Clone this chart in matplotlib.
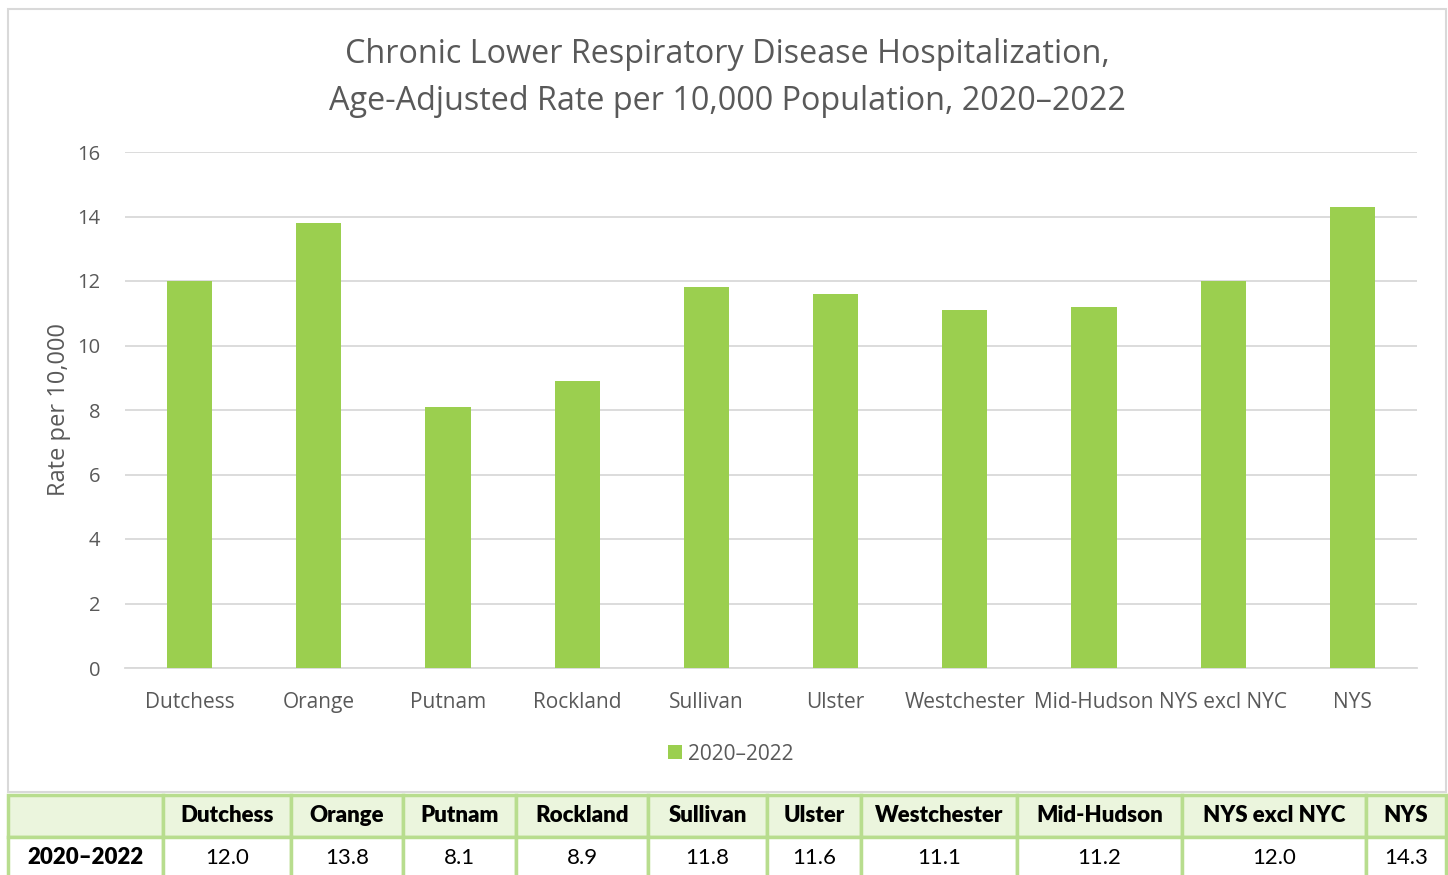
import matplotlib.pyplot as plt
from matplotlib.patches import Rectangle

W, H = 1448, 875

regions = ["Dutchess", "Orange", "Putnam", "Rockland", "Sullivan", "Ulster",
           "Westchester", "Mid-Hudson", "NYS excl NYC", "NYS"]
rates = [12.0, 13.8, 8.1, 8.9, 11.8, 11.6, 11.1, 11.2, 12.0, 14.3]
period = "2020\u20132022"
y_ticks = [0, 2, 4, 6, 8, 10, 12, 14, 16]

# table column edges (px) under the chart
col_edges = [8, 163, 291, 403, 516, 648, 767, 861, 1017, 1182, 1366, 1446]

BAR = "#9BCF4F"
TXT = "#595959"
GRID = "#D9D9D9"
TBL_FILL = "#EBF5DD"
TBL_LINE = "#B8DD8E"

plt.rcParams["font.family"] = ["Open Sans", "DejaVu Sans"]


def fig_rect(x0, y0, x1, y1):
    """pixel box (top-left origin) -> figure fraction rect"""
    return [x0 / W, 1 - y1 / H, (x1 - x0) / W, (y1 - y0) / H]


fig = plt.figure(figsize=(W / 100, H / 100), dpi=100)

# chart frame
frame = fig.add_axes([0, 0, 1, 1])
frame.set_xlim(0, W)
frame.set_ylim(H, 0)
frame.axis("off")
frame.add_patch(Rectangle((8, 9), 1438, 783, fill=False, ec=GRID, lw=1.5))

ax = fig.add_axes(fig_rect(125, 152, 1417, 668))
x = range(len(regions))
ax.bar(x, rates, width=0.35, color=BAR, zorder=3, label=period)
ax.set_xlim(-0.5, len(regions) - 0.5)
ax.set_ylim(0, 16)
ax.set_yticks(y_ticks)
ax.set_xticks(list(x))
ax.set_xticklabels(regions)
ax.grid(axis="y", color=GRID, lw=1.3, zorder=0)
for s in ax.spines.values():
    s.set_visible(False)
ax.spines["bottom"].set_visible(True)
ax.spines["bottom"].set_color(GRID)
ax.spines["bottom"].set_linewidth(1.3)
ax.tick_params(axis="both", length=0, labelsize=14.5, labelcolor=TXT)
ax.tick_params(axis="x", labelsize=15, pad=17.5)
ax.tick_params(axis="y", pad=18)
ax.set_ylabel("Rate per 10,000", fontsize=17, color=TXT, labelpad=4)

fig.text(727 / W, 1 - 78 / H,
         "Chronic Lower Respiratory Disease Hospitalization,\n"
         "Age-Adjusted Rate per 10,000 Population, 2020\u20132022",
         ha="center", va="center", fontsize=23.3, color=TXT, linespacing=1.55)

leg = fig.legend(*ax.get_legend_handles_labels(), loc="center",
                 bbox_to_anchor=(731 / W, 1 - 754 / H),
                 frameon=False, fontsize=15, handlelength=0.65, handleheight=0.65,
                 handletextpad=0.3, borderaxespad=0)
for t in leg.get_texts():
    t.set_color(TXT)

# data table
tbl = frame
rows_y = [795, 837, 880]
for r in range(2):
    y0, y1 = rows_y[r], rows_y[r + 1]
    fill = TBL_FILL if r == 0 else "white"
    for c in range(len(col_edges) - 1):
        x0, x1 = col_edges[c], col_edges[c + 1]
        tbl.add_patch(Rectangle((x0, y0), x1 - x0, y1 - y0, fc=fill,
                                ec=TBL_LINE, lw=2.5))

tf = ["Lato", "DejaVu Sans"]
for c, name in enumerate(regions):
    cx = (col_edges[c + 1] + col_edges[c + 2]) / 2
    tbl.text(cx, 816, name, ha="center", va="center", fontsize=16,
             fontweight="heavy", family=tf, color="black")
    tbl.text(cx, 858, f"{rates[c]:.1f}", ha="center", va="center",
             fontsize=16, family=tf, color="black")
tbl.text((col_edges[0] + col_edges[1]) / 2, 858, period, ha="center",
         va="center", fontsize=16, fontweight="heavy", family=tf, color="black")

fig.savefig("out.png", dpi=100)
